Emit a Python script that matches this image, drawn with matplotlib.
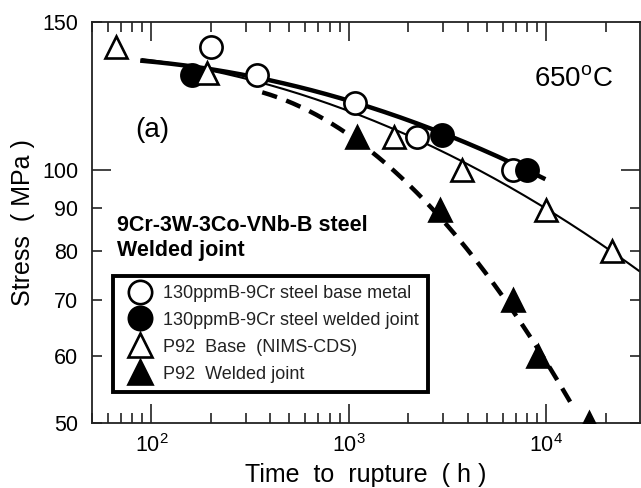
import numpy as np
import matplotlib
matplotlib.use('agg')
from matplotlib import pyplot as plt
from matplotlib.ticker import FixedLocator, NullFormatter

plt.rcParams['font.family'] = ['Liberation Sans', 'DejaVu Sans']
plt.rcParams['mathtext.fontset'] = 'custom'
plt.rcParams['mathtext.rm'] = 'Liberation Sans'

# measured points (time to rupture [h], stress [MPa])
base_t = [201, 343, 1070, 2200, 6800]
base_s = [140, 129.7, 120.2, 109.5, 100]
weld_t = [161, 2950, 8020]
weld_s = [129.7, 110, 100]
p92b_t = [65.8, 192, 1690, 3720, 10000, 21500]
p92b_s = [140, 130.4, 109.5, 100, 89.6, 80]
p92w_t = [1100, 2880, 6800, 9100, 16500]
p92w_s = [109.5, 89.6, 70, 60, 50]

# trend curves
fit1_t = [90, 343, 1070, 2950, 9660]
fit1_s = [134.8, 129.0, 120.2, 110.7, 97.8]
fit2_t = [90, 343, 1085, 2260, 3720, 10000, 18970, 29500]
fit2_s = [134.8, 128.7, 116.9, 108.6, 100.8, 91.3, 80.3, 76.5]
fit3_t = [364, 705, 1164, 2260, 3900, 6970, 10600, 13200]
fit3_s = [125.5, 113.7, 106.5, 93.9, 81.0, 68.2, 58.9, 51.6]


def smooth(t, s, deg):
    lt, ls = np.log10(t), np.log10(s)
    c = np.polyfit(lt, ls, deg)
    xx = np.linspace(lt[0], lt[-1], 200)
    return 10 ** xx, 10 ** np.polyval(c, xx)


fig = plt.figure(figsize=(6.41, 4.88), dpi=100)
ax = fig.add_axes([92 / 641, 1 - 423 / 488, 548 / 641, 401 / 488])
ax.set_xscale('log')
ax.set_yscale('log')

x, y = smooth(fit1_t, fit1_s, 2)
ax.plot(x, y, color='black', lw=3.2, zorder=2)
x, y = smooth(fit2_t, fit2_s, 2)
ax.plot(x, y, color='black', lw=1.5, zorder=2)
x, y = smooth(fit3_t, fit3_s, 2)
ax.plot(x, y, color='black', lw=3.2, ls=(0, (3.5, 2.2)), zorder=2)

mk = dict(ms=16, mew=1.9, mec='black', ls='none', zorder=3)
ax.plot(base_t, base_s, 'o', mfc='white', label='130ppmB-9Cr steel base metal', **mk)
ax.plot(weld_t, weld_s, 'o', mfc='black', label='130ppmB-9Cr steel welded joint', **mk)
ax.plot(p92b_t, p92b_s, '^', mfc='white', label='P92  Base  (NIMS-CDS)', **mk)
ax.plot(p92w_t, p92w_s, '^', mfc='black', label='P92  Welded joint', **mk)

ax.set_xlim(50, 29800)
ax.set_ylim(50, 150)

ax.yaxis.set_major_locator(FixedLocator([100]))
ax.yaxis.set_minor_locator(FixedLocator([50, 60, 70, 80, 90, 150]))
ax.yaxis.set_major_formatter(plt.FuncFormatter(lambda v, p: '%d' % v))
ax.yaxis.set_minor_formatter(plt.FuncFormatter(lambda v, p: '%d' % v))
ax.xaxis.set_minor_formatter(NullFormatter())

ax.tick_params(which='both', direction='in', top=True, right=True, labelsize=15.5,
               width=1.2, color='#222222')
ax.tick_params(which='major', length=14, pad=8)
ax.tick_params(which='minor', length=7, pad=8)
ax.tick_params(axis='y', which='both', pad=10)
for sp in ax.spines.values():
    sp.set_linewidth(1.3)
    sp.set_color('#222222')

ax.set_xlabel('Time  to  rupture  ( h )', fontsize=18, labelpad=4)
ax.set_ylabel('Stress  ( MPa )', fontsize=18, labelpad=5)

ax.text(0.878, 0.855, '650$^{\\mathrm{o}}$C', transform=ax.transAxes, fontsize=20,
        ha='center', va='center')
ax.text(0.11, 0.73, '(a)', transform=ax.transAxes, fontsize=20, ha='center', va='center')
ax.text(0.046, 0.461, '9Cr-3W-3Co-VNb-B steel\nWelded joint', transform=ax.transAxes,
        fontsize=15.5, fontweight='bold', ha='left', va='center', linespacing=1.25)

leg = ax.legend(loc='upper left', bbox_to_anchor=(0.038, 0.367), borderaxespad=0,
                fontsize=13, frameon=True, fancybox=False, framealpha=1,
                markerscale=1.05, handlelength=2.0, handletextpad=0.3,
                labelspacing=0.55, borderpad=0.5)
leg.get_frame().set_edgecolor('black')
leg.get_frame().set_linewidth(2.8)
for t in leg.get_texts():
    t.set_color('#222222')

fig.savefig('out.png', dpi=100)
